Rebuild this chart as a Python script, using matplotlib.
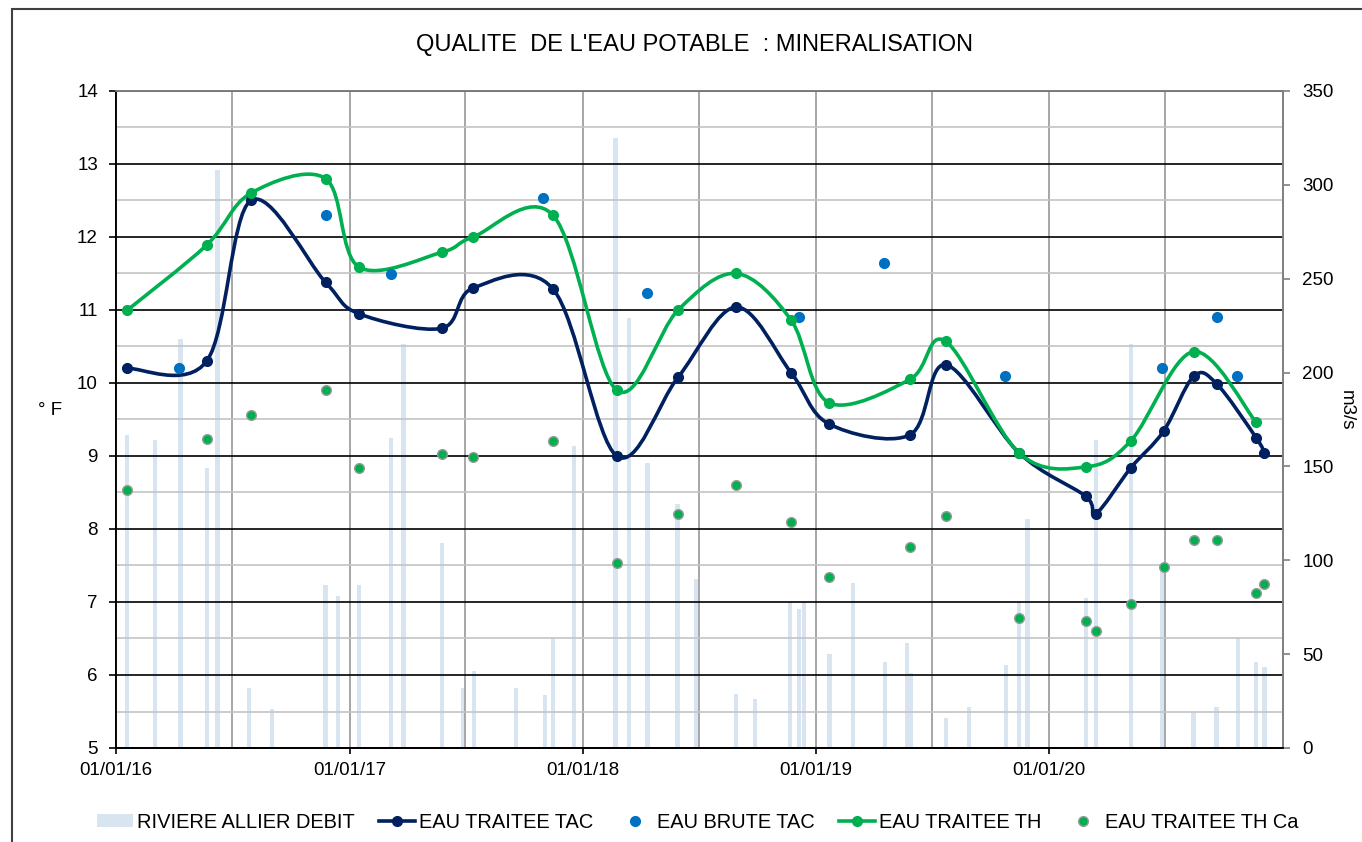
import matplotlib

matplotlib.use("Agg")
import matplotlib.dates as mdates
import matplotlib.pyplot as plt
import numpy as np
import pandas as pd
from matplotlib.lines import Line2D
from matplotlib.patches import Patch, PathPatch, Rectangle
from matplotlib.path import Path

plt.rcParams["font.family"] = ["Liberation Sans", "DejaVu Sans"]

# ── data ────────────────────────────────────────────────────────────────────
DEBIT_DATES = [
    "2016-01-18", "2016-03-02", "2016-04-11", "2016-05-23", "2016-06-08",
    "2016-07-27", "2016-09-01", "2016-11-24", "2016-12-14", "2017-01-16",
    "2017-03-06", "2017-03-26", "2017-05-25", "2017-06-27", "2017-07-14",
    "2017-09-18", "2017-11-02", "2017-11-15", "2017-12-18", "2018-02-21",
    "2018-03-14", "2018-04-12", "2018-05-29", "2018-06-27", "2018-08-29",
    "2018-09-27", "2018-11-21", "2018-12-05", "2018-12-13", "2019-01-22",
    "2019-02-28", "2019-04-19", "2019-05-23", "2019-05-29", "2019-07-23",
    "2019-08-28", "2019-10-26", "2019-11-15", "2019-11-28", "2020-02-27",
    "2020-03-14", "2020-05-08", "2020-06-26", "2020-08-14", "2020-09-19",
    "2020-10-23", "2020-11-20", "2020-12-03",
]
DEBIT = [
    167, 164, 218, 149, 308, 32, 21, 87, 81, 87,
    165, 215, 109, 32, 41, 32, 28, 59, 161, 325,
    229, 152, 130, 90, 29, 26, 78, 74, 78, 50,
    88, 46, 56, 40, 16, 22, 44, 78, 122, 80,
    164, 215, 97, 19, 22, 59, 46, 43,
]

TRAITEE_DATES = [
    "2016-01-19", "2016-05-22", "2016-07-30", "2016-11-24", "2017-01-15",
    "2017-05-25", "2017-07-13", "2017-11-15", "2018-02-23", "2018-05-30",
    "2018-08-29", "2018-11-23", "2019-01-21", "2019-05-28", "2019-07-23",
    "2019-11-15", "2020-02-27", "2020-03-14", "2020-05-08", "2020-06-28",
    "2020-08-14", "2020-09-19", "2020-11-20", "2020-12-03",
]
TAC = [
    10.2, 10.3, 12.5, 11.38, 10.95, 10.75, 11.3, 11.29, 9.0, 10.08,
    11.04, 10.14, 9.44, 9.29, 10.25, 9.04, 8.45, 8.21, 8.84, 9.34,
    10.09, 9.99, 9.25, 9.04,
]
TH_CA = [
    8.53, 9.23, 9.56, 9.9, 8.84, 9.03, 8.99, 9.21, 7.54, 8.2,
    8.6, 8.1, 7.34, 7.75, 8.18, 6.78, 6.74, 6.6, 6.97, 7.48,
    7.85, 7.85, 7.13, 7.24,
]

TH_DATES = [
    "2016-01-19", "2016-05-22", "2016-07-30", "2016-11-24", "2017-01-15",
    "2017-05-25", "2017-07-13", "2017-11-15", "2018-02-23", "2018-05-30",
    "2018-08-29", "2018-11-23", "2019-01-21", "2019-05-28", "2019-07-23",
    "2019-11-15", "2020-02-27", "2020-05-08", "2020-08-14", "2020-11-20",
]
TH = [
    11.0, 11.89, 12.6, 12.8, 11.59, 11.79, 12.0, 12.3, 9.9, 11.0,
    11.5, 10.86, 9.73, 10.05, 10.57, 9.04, 8.85, 9.21, 10.43, 9.46,
]

BRUTE_DATES = [
    "2016-04-09", "2016-11-24", "2017-03-06", "2017-10-30", "2018-04-11",
    "2018-12-05", "2019-04-17", "2019-10-24", "2020-06-26", "2020-09-19",
    "2020-10-21",
]
BRUTE_TAC = [10.2, 12.3, 11.49, 12.53, 11.23, 10.9, 11.64, 10.09, 10.2, 10.9, 10.09]

YEAR_TICKS = ["2016-01-01", "2017-01-01", "2018-01-01", "2019-01-01", "2020-01-01"]

NAVY = "#002060"
BLUE = "#0070C0"
GREEN = "#00B050"
BAR = "#D9E4F1"


def smooth_path(dates, values):
    """Excel-like smoothed line: cubic Bezier through the points."""
    p = np.column_stack([mdates.date2num(pd.to_datetime(dates)), values])
    ext = np.vstack([p[0], p, p[-1]])
    verts = [p[0]]
    codes = [Path.MOVETO]
    for i in range(len(p) - 1):
        p0, p1, p2, p3 = ext[i], ext[i + 1], ext[i + 2], ext[i + 3]
        verts += [p1 + (p2 - p0) / 6, p2 - (p3 - p1) / 6, p2]
        codes += [Path.CURVE4] * 3
    return Path(verts, codes)


fig = plt.figure(figsize=(13.62, 8.42), dpi=100)
ax = fig.add_axes([116 / 1362, 1 - 748 / 842, 1167 / 1362, 657 / 842])
ax2 = ax.twinx()
ax.set_zorder(ax2.get_zorder() + 1)
ax.patch.set_visible(False)

# bars on the right axis
ax2.bar(pd.to_datetime(DEBIT_DATES), DEBIT, width=6.5, color=BAR, zorder=1)
ax2.set_ylim(0, 350)
ax2.set_yticks(range(0, 351, 50))

# smoothed lines
ax.add_patch(PathPatch(smooth_path(TRAITEE_DATES, TAC), fill=False, edgecolor=NAVY, lw=2.6, zorder=4))
ax.add_patch(PathPatch(smooth_path(TH_DATES, TH), fill=False, edgecolor=GREEN, lw=2.6, zorder=5))
ax.plot(pd.to_datetime(TRAITEE_DATES), TAC, "o", color=NAVY, ms=7, zorder=6)
ax.plot(pd.to_datetime(TH_DATES), TH, "o", color=GREEN, ms=7, zorder=7)
ax.plot(pd.to_datetime(BRUTE_DATES), BRUTE_TAC, "o", color=BLUE, ms=7, zorder=6)
ax.plot(pd.to_datetime(TRAITEE_DATES), TH_CA, "o", color=GREEN, mec="#9a9a9a", mew=1, ms=7, zorder=6)

ax.set_ylim(5, 14)
ax.set_xlim(pd.Timestamp("2016-01-01"), pd.Timestamp("2021-01-01"))
ax.set_yticks(range(5, 15))
ax.set_yticks(np.arange(5.5, 14, 1.0), minor=True)
ax.set_xticks(pd.to_datetime(YEAR_TICKS))
ax.xaxis.set_major_formatter(mdates.DateFormatter("%d/%m/%y"))
ax.xaxis.set_minor_locator(mdates.MonthLocator(bymonth=[1, 7]))

# grid
ax.grid(True, axis="y", which="major", color="black", lw=1.2, zorder=0)
ax.grid(True, axis="y", which="minor", color="#c4c4c4", lw=1.2, zorder=0)
ax.grid(True, axis="x", which="both", color="#a6a6a6", lw=1.4, zorder=0)

ax.tick_params(axis="y", which="major", length=5, width=1.2, pad=8, labelsize=13.5, color="black")
ax.tick_params(axis="y", which="minor", length=0)
ax.tick_params(axis="x", which="major", length=4, width=1.2, pad=6, labelsize=13.5)
ax.tick_params(axis="x", which="minor", length=0)
ax2.tick_params(axis="y", length=5, width=1.2, pad=9, labelsize=13.5, color="#808080")

for a in (ax, ax2):
    a.spines["top"].set_color("#808080")
    a.spines["right"].set_color("#808080")
    a.spines["left"].set_color("black")
    a.spines["bottom"].set_color("black")
    for s in a.spines.values():
        s.set_linewidth(1.3)

fig.text(694 / 1362, 1 - 45 / 842, "QUALITE  DE L'EAU POTABLE  : MINERALISATION",
         ha="center", va="center", fontsize=17)
fig.text(50 / 1362, 1 - 410 / 842, "° F", ha="center", va="center", fontsize=13.5)
fig.text(1346 / 1362, 1 - 410 / 842, "m3/s", ha="center", va="center", fontsize=13.5, rotation=270)

handles = [
    Patch(facecolor=BAR, edgecolor="none"),
    Line2D([], [], color=NAVY, lw=2.6, marker="o", ms=7),
    Line2D([], [], color=BLUE, lw=0, marker="o", ms=7),
    Line2D([], [], color=GREEN, lw=2.6, marker="o", ms=7),
    Line2D([], [], color=GREEN, lw=0, marker="o", ms=7, mec="#9a9a9a", mew=1),
]
labels = ["RIVIERE ALLIER DEBIT", "EAU TRAITEE TAC", "EAU BRUTE TAC", "EAU TRAITEE TH", "EAU TRAITEE TH Ca"]
fig.legend(handles, labels, loc="center", bbox_to_anchor=(698 / 1362, 1 - 822 / 842), ncol=5,
           frameon=False, fontsize=14.4, handlelength=1.8, handletextpad=0.2, columnspacing=1.2,
           handleheight=0.6)

fig.add_artist(Rectangle((12 / 1362, -0.1), 1.2, 1.1 - 9 / 842, transform=fig.transFigure,
                         fill=False, edgecolor="#404040", lw=1.5))

fig.savefig("out.png", dpi=100)
